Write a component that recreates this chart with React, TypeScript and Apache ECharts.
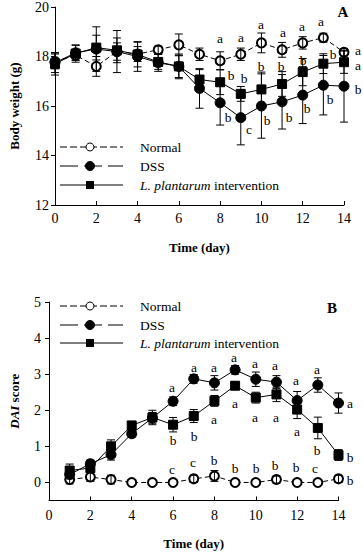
import React, { useEffect, useRef } from 'react';
import * as echarts from 'echarts';

const FONT = '"Liberation Serif", "Times New Roman", serif';

// Panel A: body weight
const daysA = [0, 1, 2, 3, 4, 5, 6, 7, 8, 9, 10, 11, 12, 13, 14];
const normalA = [17.8, 18.05, 17.6, 18.2, 18.1, 18.27, 18.47, 18.09, 17.83, 18.09, 18.55, 18.27, 18.55, 18.76, 18.17];
const normalErrA = [0.3, 0.2, 0.4, 0.35, 0.3, 0.15, 0.44, 0.25, 0.36, 0.25, 0.4, 0.3, 0.25, 0.18, 0.15];
const dssA = [17.75, 18.15, 18.3, 18.2, 18.0, 17.75, 17.6, 16.71, 16.13, 15.53, 16.0, 16.17, 16.44, 16.84, 16.8];
const dssErrA = [0.4, 0.3, 0.9, 0.85, 0.6, 0.35, 0.5, 0.8, 0.9, 1.1, 1.3, 1.1, 1.15, 1.2, 1.45];
const lpA = [17.7, 18.12, 18.36, 18.25, 18.08, 17.78, 17.6, 17.07, 16.96, 16.49, 16.67, 16.89, 17.37, 17.71, 17.77];
const lpErrA = [0.45, 0.35, 0.5, 0.5, 0.5, 0.3, 0.45, 0.4, 0.5, 0.3, 0.7, 0.5, 0.55, 0.4, 0.45];

// Letters for panel A: [day, y, letter]
const lettersA: [number, number, string][] = [
  [7.98, 18.76, 'a'], [9.02, 18.8, 'a'], [10.0, 19.31, 'a'], [11.03, 19.0, 'a'], [11.97, 19.23, 'a'], [12.9, 19.43, 'a'], [14.66, 18.27, 'a'],
  [8.51, 17.25, 'b'], [9.14, 17.15, 'b'], [10.0, 17.6, 'b'], [10.94, 17.6, 'b'], [12.03, 17.85, 'b'], [13.49, 18.1, 'b'], [14.66, 17.67, 'a'],
  [8.36, 15.56, 'b'], [9.39, 15.07, 'c'], [10.28, 15.43, 'b'], [11.33, 15.56, 'b'], [12.21, 15.93, 'b'], [13.3, 16.29, 'b'], [14.66, 16.67, 'b'],
];

// Panel B: DAI score
const daysB = [1, 2, 3, 4, 5, 6, 7, 8, 9, 10, 11, 12, 13, 14];
const normalB = [0.08, 0.15, 0.08, 0, 0, 0, 0.1, 0.18, 0, 0, 0.08, 0, 0, 0.1];
const normalErrB = [0.12, 0.12, 0.12, 0, 0, 0, 0.1, 0.15, 0, 0, 0.1, 0, 0, 0.1];
const dssB = [0.22, 0.52, 0.77, 1.35, 1.79, 2.25, 2.87, 2.76, 3.12, 2.86, 2.78, 2.27, 2.7, 2.2];
const dssErrB = [0.12, 0.1, 0.15, 0.1, 0.15, 0.12, 0.12, 0.2, 0.12, 0.2, 0.18, 0.25, 0.2, 0.28];
const lpB = [0.33, 0.4, 1.0, 1.58, 1.8, 1.6, 1.84, 2.26, 2.68, 2.35, 2.44, 2.02, 1.51, 0.76];
const lpErrB = [0.18, 0.12, 0.18, 0.1, 0.2, 0.2, 0.18, 0.15, 0.1, 0.15, 0.2, 0.25, 0.3, 0.15];

const lettersB: [number, number, string][] = [
  [5.93, 2.65, 'a'], [7.0, 3.2, 'a'], [8.0, 3.19, 'a'], [8.96, 3.47, 'a'], [9.94, 3.3, 'a'], [10.93, 3.25, 'a'], [11.93, 2.83, 'a'], [12.95, 3.13, 'a'], [14.54, 2.19, 'a'],
  [6.0, 1.17, 'b'], [7.03, 1.29, 'b'], [7.96, 1.77, 'a'], [9.0, 2.19, 'a'], [9.94, 1.82, 'a'], [11.0, 1.82, 'a'], [11.97, 1.43, 'a'], [12.95, 0.91, 'b'], [14.57, 0.71, 'b'],
  [5.97, 0.36, 'c'], [6.98, 0.57, 'c'], [7.96, 0.62, 'b'], [9.0, 0.39, 'b'], [9.99, 0.39, 'b'], [10.95, 0.48, 'b'], [11.93, 0.43, 'b'], [12.87, 0.39, 'c'], [14.54, 0.06, 'b'],
];

const ticksB = [0, 1, 2, 3, 4, 5];
const xTicksB = [2, 4, 6, 8, 10, 12, 14];

const legendNames = ['Normal', 'DSS', '{i|L. plantarum} intervention'];

function zip(xs: number[], ys: number[]) {
  return xs.map((x, i) => [x, ys[i]]);
}
function zip3(xs: number[], ys: number[], es: number[]) {
  return xs.map((x, i) => [x, ys[i], es[i]]);
}

const errorRender = (params: any, api: any) => {
  const x = api.value(0);
  const y = api.value(1);
  const e = api.value(2);
  if (!e) return { type: 'group', children: [] };
  const top = api.coord([x, y + e]);
  const bot = api.coord([x, y - e]);
  const cap = 4;
  const style = { stroke: '#000', lineWidth: 1 };
  return {
    type: 'group',
    children: [
      { type: 'line', shape: { x1: top[0], y1: top[1], x2: bot[0], y2: bot[1] }, style },
      { type: 'line', shape: { x1: top[0] - cap, y1: top[1], x2: top[0] + cap, y2: top[1] }, style },
      { type: 'line', shape: { x1: bot[0] - cap, y1: bot[1], x2: bot[0] + cap, y2: bot[1] }, style },
    ],
  };
};

function lineSeries(name: string, data: number[][], idx: number, symbol: string, dashed: boolean, size: number) {
  return {
    name,
    type: 'line',
    xAxisIndex: idx,
    yAxisIndex: idx,
    data,
    symbol,
    symbolSize: size,
    showSymbol: true,
    z: 3,
    lineStyle: { color: '#000', width: 1, type: dashed ? [5, 3] : 'solid' },
    itemStyle: { color: '#000', borderColor: '#000', borderWidth: 1 },
  };
}

function errSeries(data: number[][], idx: number) {
  return {
    type: 'custom',
    xAxisIndex: idx,
    yAxisIndex: idx,
    data,
    renderItem: errorRender,
    z: 4,
    silent: true,
  };
}

function legendGraphics(rowsY: number[]) {
  const els: any[] = [];
  const dashes: any[] = [[7, 3], [18, 6], null];
  rowsY.forEach((y, i) => {
    els.push({
      type: 'line',
      shape: { x1: 60, y1: y, x2: 123, y2: y },
      style: { stroke: '#000', lineWidth: 1, lineDash: dashes[i] },
      z: 10,
    });
    if (i === 0) {
      els.push({ type: 'circle', shape: { cx: 90, cy: y, r: 4 }, style: { fill: '#fff', stroke: '#000', lineWidth: 1 }, z: 11 });
    } else if (i === 1) {
      els.push({ type: 'circle', shape: { cx: 90, cy: y, r: 4.5 }, style: { fill: '#000', stroke: '#000' }, z: 11 });
    } else {
      els.push({ type: 'rect', shape: { x: 86, y: y - 4, width: 8, height: 8 }, style: { fill: '#000' }, z: 11 });
    }
    els.push({
      type: 'text',
      x: 140,
      y,
      style: {
        text: legendNames[i],
        fontFamily: FONT,
        fontSize: 13.5,
        fill: '#000',
        verticalAlign: 'middle',
        align: 'left',
        rich: { i: { fontStyle: 'italic', fontFamily: FONT, fontSize: 13.5, fill: '#000' } },
      },
      z: 11,
    });
  });
  return els;
}

const axisLineStyle = { lineStyle: { color: '#000', width: 1 } };
const labelStyle = { color: '#000', fontFamily: FONT, fontSize: 14 };
const nameStyle = { color: '#000', fontFamily: FONT, fontSize: 13, fontWeight: 'bold' as const };

export default function App() {
  const ref = useRef<HTMLDivElement>(null);
  useEffect(() => {
    document.body.style.margin = '0';
    if (!ref.current) return;
    const chart = echarts.init(ref.current, undefined, { renderer: 'svg' });
    const baseGraphics = [
      ...legendGraphics([147, 166, 185]),
      ...legendGraphics([306, 325, 343]),
      { type: 'text', x: 343, y: 12, style: { text: 'A', fontFamily: FONT, fontSize: 15, fontWeight: 'bold', fill: '#000', align: 'center', verticalAlign: 'middle' } },
      { type: 'text', x: 332, y: 308, style: { text: 'B', fontFamily: FONT, fontSize: 15, fontWeight: 'bold', fill: '#000', align: 'center', verticalAlign: 'middle' } },
    ];
    chart.setOption({
      animation: false,
      backgroundColor: '#fff',
      grid: [
        { left: 46, top: 5, width: 298, height: 200 },
        { left: 39, top: 302, width: 299.5, height: 198.5 },
      ],
      xAxis: [
        {
          gridIndex: 0, type: 'value', min: 0, max: 14, interval: 2,
          name: 'Time (day)', nameLocation: 'middle', nameGap: 36, nameTextStyle: nameStyle,
          axisLine: { show: true, onZero: false, ...axisLineStyle },
          axisTick: { show: true, inside: true, length: 4, lineStyle: { color: '#000' } },
          axisLabel: { ...labelStyle, margin: 6 },
          splitLine: { show: false },
        },
        {
          gridIndex: 1, type: 'value', min: 0, max: 14, interval: 2,
          name: 'Time (day)', nameLocation: 'middle', nameGap: 36, nameTextStyle: nameStyle,
          axisLine: { show: true, onZero: false, ...axisLineStyle },
          axisTick: { show: true, inside: true, length: 4, lineStyle: { color: '#000' }, customValues: xTicksB },
          axisLabel: { ...labelStyle, margin: 8 },
          splitLine: { show: false },
        },
      ],
      yAxis: [
        {
          gridIndex: 0, type: 'value', min: 12, max: 20, interval: 2,
          name: 'Body weight (g)', nameLocation: 'middle', nameGap: 34, nameTextStyle: nameStyle,
          axisLine: { show: true, onZero: false, ...axisLineStyle },
          axisTick: { show: true, inside: false, length: 4, lineStyle: { color: '#000' } },
          axisLabel: { ...labelStyle, margin: 6 },
          splitLine: { show: false },
        },
        {
          gridIndex: 1, type: 'value', min: -0.5, max: 5,
          name: '{i|DAI} score', nameLocation: 'middle', nameGap: 28,
          nameTextStyle: { ...nameStyle, rich: { i: { fontStyle: 'italic', fontWeight: 'bold', fontFamily: FONT, fontSize: 13, color: '#000' } } },
          axisLine: { show: true, onZero: false, ...axisLineStyle },
          axisTick: { show: true, inside: false, length: 4, lineStyle: { color: '#000' }, customValues: ticksB },
          axisLabel: { ...labelStyle, margin: 8, customValues: ticksB },
          splitLine: { show: false },
        },
      ],
      series: [
        lineSeries('Normal', zip(daysA, normalA), 0, 'emptyCircle', true, 9),
        lineSeries('DSS', zip(daysA, dssA), 0, 'circle', false, 10),
        lineSeries('LP', zip(daysA, lpA), 0, 'rect', false, 9),
        errSeries(zip3(daysA, normalA, normalErrA), 0),
        errSeries(zip3(daysA, dssA, dssErrA), 0),
        errSeries(zip3(daysA, lpA, lpErrA), 0),
        lineSeries('Normal', zip(daysB, normalB), 1, 'emptyCircle', true, 9),
        lineSeries('DSS', zip(daysB, dssB), 1, 'circle', false, 10),
        lineSeries('LP', zip(daysB, lpB), 1, 'rect', false, 9),
        errSeries(zip3(daysB, normalB, normalErrB), 1),
        errSeries(zip3(daysB, dssB, dssErrB), 1),
        errSeries(zip3(daysB, lpB, lpErrB), 1),
      ],
      graphic: baseGraphics,
    });
    const letterEls: any[] = [];
    [lettersA, lettersB].forEach((arr, gi) => {
      arr.forEach(([x, y, t]) => {
        const p = chart.convertToPixel({ gridIndex: gi }, [x, y]) as number[];
        letterEls.push({
          type: 'text',
          x: Math.round(p[0]),
          y: Math.round(p[1]),
          z: 12,
          style: { text: t, fill: '#000', fontFamily: FONT, fontSize: 13.5, align: 'center', verticalAlign: 'middle' },
        });
      });
    });
    chart.setOption({ graphic: [...baseGraphics, ...letterEls] });
    return () => chart.dispose();
  }, []);
  return <div ref={ref} style={{ width: 363, height: 553 }} />;
}
